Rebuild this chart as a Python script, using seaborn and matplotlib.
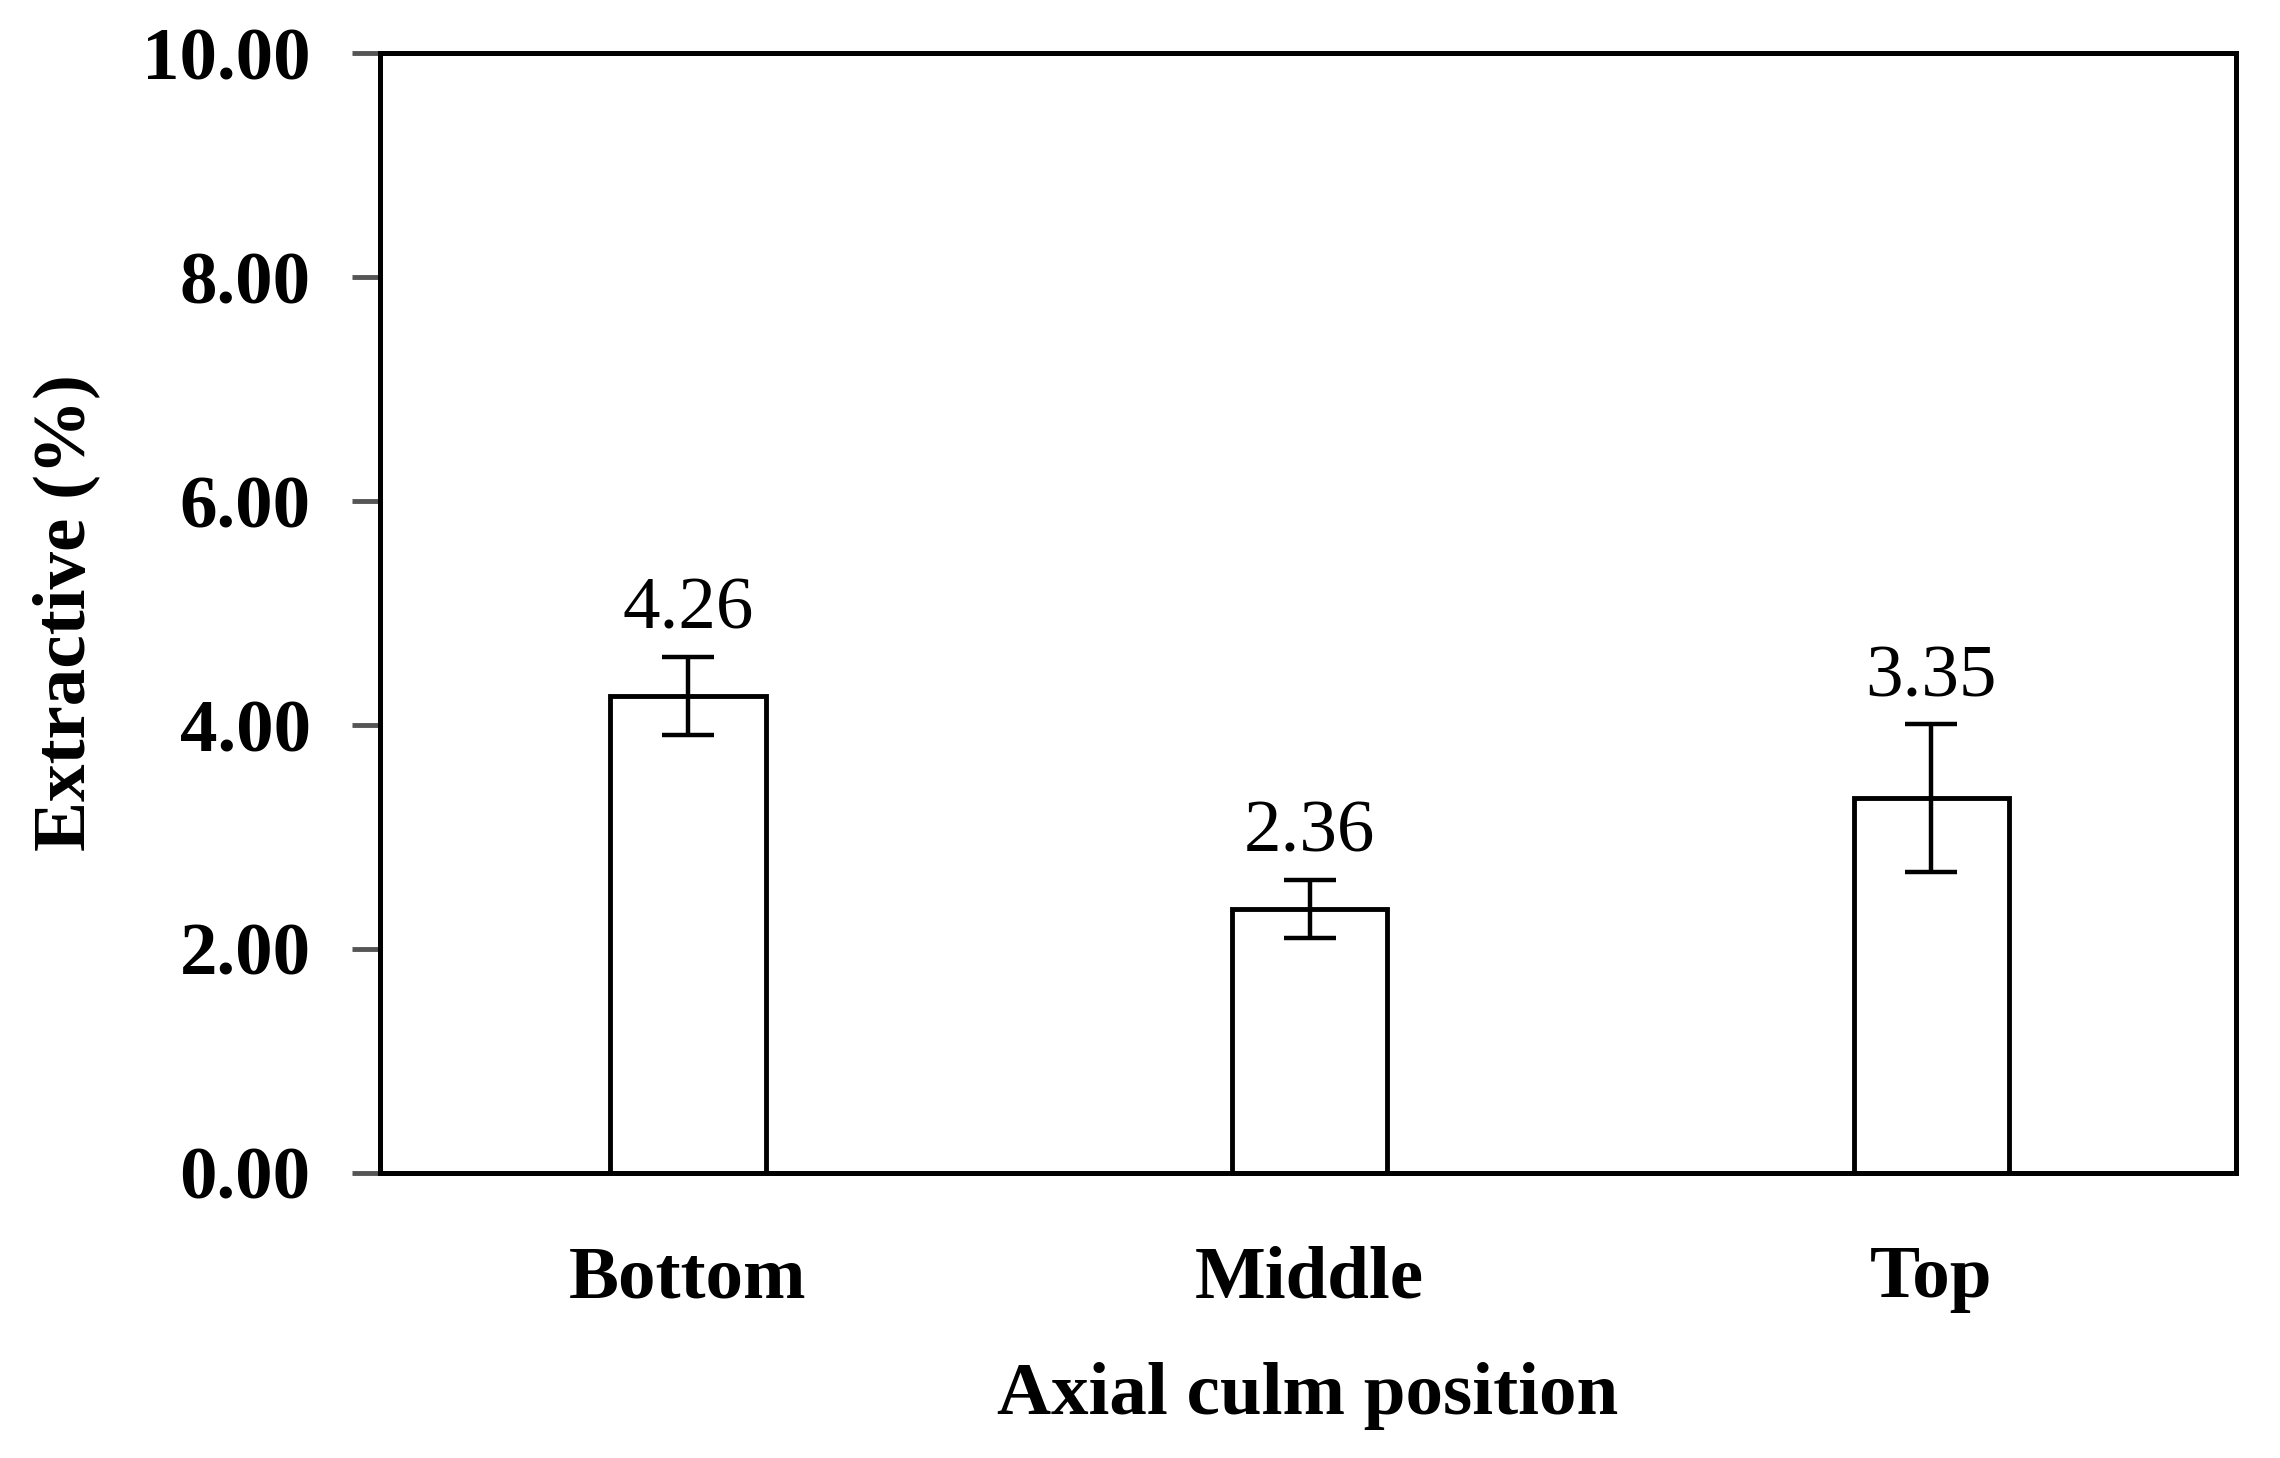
from matplotlib import pyplot as plt
import seaborn as sns
import pandas as pd

positions = ["Bottom", "Middle", "Top"]
extractive = [4.26, 2.36, 3.35]
std_err = [0.35, 0.26, 0.66]
value_labels = ["4.26", "2.36", "3.35"]

sns.set_style("ticks")
plt.rcParams["font.family"] = ["Liberation Serif", "DejaVu Serif"]
plt.rcParams["text.color"] = "black"
plt.rcParams["axes.labelcolor"] = "black"
plt.rcParams["xtick.labelcolor"] = "black"
plt.rcParams["ytick.labelcolor"] = "black"

df = pd.DataFrame({"position": positions, "extractive": extractive})

fig, ax = plt.subplots(figsize=(22.8, 14.58), dpi=100)
fig.subplots_adjust(left=0.1667, right=0.9807, top=0.9636, bottom=0.1955)

sns.barplot(data=df, x="position", y="extractive", ax=ax, width=0.25,
            color="white", edgecolor="black", linewidth=3.5, errorbar=None)
ax.errorbar(range(len(positions)), extractive, yerr=std_err, fmt="none",
            ecolor="black", elinewidth=3.2, capsize=19, capthick=3.2)

for i, (m, e, lab) in enumerate(zip(extractive, std_err, value_labels)):
    ax.annotate(lab, (i, m + e), xytext=(0, 20), textcoords="offset points",
                ha="center", va="baseline", fontsize=54, color="black")

ax.set_ylim(0, 10)
ax.set_xlim(-0.495, 2.49)
ax.set_yticks([0, 2, 4, 6, 8, 10])
ax.set_yticklabels([f"{v:.2f}" for v in [0, 2, 4, 6, 8, 10]])
for s in ax.spines.values():
    s.set_visible(True)
    s.set_linewidth(3.6)
    s.set_color("black")

ax.tick_params(axis="y", length=20, width=3.5, color="#555555", pad=30,
               labelsize=54, labelcolor="black")
ax.tick_params(axis="x", length=0, pad=52, labelsize=54, labelcolor="black")
for t in ax.get_xticklabels() + ax.get_yticklabels():
    t.set_fontweight("bold")

ax.set_xlabel("Axial culm position", fontsize=54, fontweight="bold",
              labelpad=35, color="black")
ax.set_ylabel("Extractive (%)", fontsize=54, fontweight="bold",
              labelpad=30, color="black")

plt.savefig("out.png")
plt.close()
